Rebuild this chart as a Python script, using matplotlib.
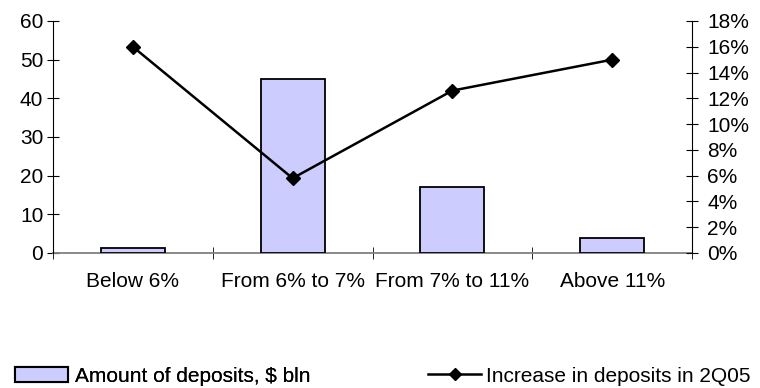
import matplotlib
matplotlib.use("Agg")
import matplotlib.pyplot as plt
from matplotlib.ticker import FixedLocator, FuncFormatter, MultipleLocator
from matplotlib.patches import Patch
from matplotlib.lines import Line2D

categories = ["Below 6%", "From 6% to 7%", "From 7% to 11%", "Above 11%"]
amounts = [1.4, 45, 17, 4]
increase = [0.160, 0.058, 0.126, 0.150]
bar_label = "Amount of deposits, $ bln"
line_label = "Increase in deposits in 2Q05"

plt.rcParams['font.family'] = ['Liberation Sans', 'DejaVu Sans']
fs = 15

fig = plt.figure(figsize=(7.6, 3.88), dpi=100)
ax = fig.add_axes([53/760, 1-253/388, (692-53)/760, (253-21)/388])
x = list(range(len(categories)))
ax.bar(x, amounts, width=0.4, color="#CCCCFF", edgecolor="black", linewidth=1.3, zorder=3)
ax.set_xlim(-0.5, len(categories)-0.5)
ax.set_ylim(0, 60)
ax.yaxis.set_major_locator(MultipleLocator(10))
for s in ["top", "right"]:
    ax.spines[s].set_visible(False)
ax.spines["bottom"].set_color("#808080")
ax.spines["bottom"].set_linewidth(1.3)
ax.spines["bottom"].set_zorder(2)
ax.spines["left"].set_color("black")
ax.set_xticks(x)
ax.set_xticklabels(categories, fontsize=fs)
ax.tick_params(axis="x", which="major", length=0, pad=14)
ax.xaxis.set_minor_locator(FixedLocator([i - 0.5 for i in range(len(categories)+1)]))
ax.tick_params(axis="x", which="minor", direction="inout", length=9, color="black")
ax.tick_params(axis="y", direction="inout", length=9, labelsize=fs, pad=2.5)

ax2 = ax.twinx()
ax2.plot(x, increase, color="black", marker="D", markersize=7, linewidth=1.8, zorder=4)
ax2.set_ylim(0, 0.18)
ax2.yaxis.set_major_locator(MultipleLocator(0.02))
ax2.yaxis.set_major_formatter(FuncFormatter(lambda v, p: f"{v*100:.0f}%"))
for s in ["top", "left", "bottom"]:
    ax2.spines[s].set_visible(False)
ax2.spines["right"].set_color("black")
ax2.tick_params(axis="y", direction="inout", length=9, labelsize=fs, pad=6.5)

ly = 1 - 376/388
leg1 = fig.legend(handles=[Patch(facecolor="#CCCCFF", edgecolor="black", linewidth=1.5)],
                  labels=[bar_label], loc="center left", bbox_to_anchor=(15/760, ly),
                  frameon=False, fontsize=fs, handlelength=2.55, handleheight=0.7,
                  handletextpad=0.33, borderaxespad=0, borderpad=0)
leg2 = fig.legend(handles=[Line2D([], [], color="black", marker="D", markersize=6.5, linewidth=1.8)],
                  labels=[line_label], loc="center left", bbox_to_anchor=(428/760, ly),
                  frameon=False, fontsize=fs, handlelength=2.55,
                  handletextpad=0.25, borderaxespad=0, borderpad=0)
fig.add_artist(leg1)

fig.savefig("out.png", dpi=100)
